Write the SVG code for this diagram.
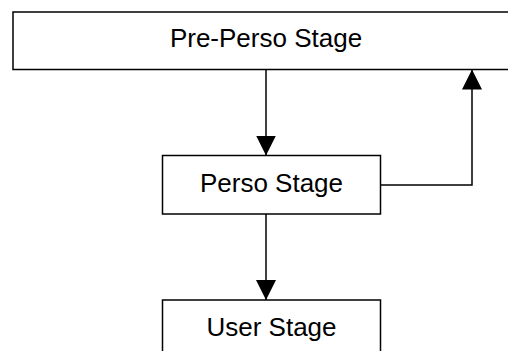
<svg xmlns="http://www.w3.org/2000/svg" width="508" height="351" viewBox="0 0 508 351">
  <style>
    .box { fill: #ffffff; stroke: #000000; stroke-width: 1.5; }
    .label { font-family: "Liberation Sans", Arial, sans-serif; font-size: 26px; fill: #000000; text-anchor: middle; }
    .wire { fill: none; stroke: #000000; stroke-width: 1.5; }
  </style>
  <defs>
    <marker id="head" viewBox="0 0 20 20" refX="20" refY="10" markerWidth="20" markerHeight="20" markerUnits="userSpaceOnUse" orient="auto">
      <path d="M0,0 L20,10 L0,20 Z" fill="#000000"/>
    </marker>
  </defs>

  <rect width="508" height="351" fill="#ffffff"/>

  <g id="pre-perso">
    <rect class="box" x="13" y="12" width="506" height="57.5"/>
    <text class="label" x="266" y="47">Pre-Perso Stage</text>
  </g>

  <g id="perso">
    <rect class="box" x="162.5" y="155.5" width="218" height="58.5"/>
    <text class="label" x="271.5" y="191.5">Perso Stage</text>
  </g>

  <g id="user">
    <rect class="box" x="162.5" y="300" width="218" height="60"/>
    <text class="label" x="271.5" y="336">User Stage</text>
  </g>

  <g id="connectors">
    <path class="wire" d="M266,69.5 L266,155.5" marker-end="url(#head)"/>
    <path class="wire" d="M266,214 L266,300" marker-end="url(#head)"/>
    <path class="wire" d="M380.5,185 L472,185 L472,69.5" marker-end="url(#head)"/>
  </g>
</svg>
